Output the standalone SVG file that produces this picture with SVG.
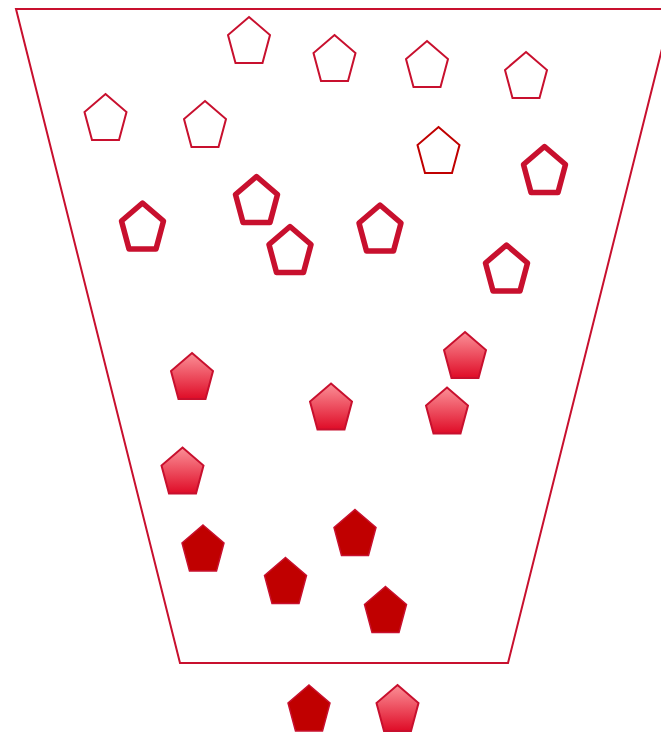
<svg xmlns="http://www.w3.org/2000/svg" xmlns:xlink="http://www.w3.org/1999/xlink" width="661" height="736" viewBox="0 0 661 736">
  <defs>
    <linearGradient id="g" x1="0" y1="0" x2="0" y2="1">
      <stop offset="0" stop-color="#fb9097"/>
      <stop offset="1" stop-color="#df0c27"/>
    </linearGradient>
    <path id="p" d="M0,0 L21,18 L13.5,46 L-13.5,46 L-21,18 Z"/>
  </defs>
  <style>
    .funnel { fill: none; stroke: #c8102e; stroke-width: 2; }
    .thin { fill: #ffffff; stroke: #c8102e; stroke-width: 2; }
    .thin2 { fill: #ffffff; stroke: #c00000; stroke-width: 2; }
    .thick { fill: #ffffff; stroke: #c8102e; stroke-width: 5.5; stroke-linejoin: round; }
    .grad { fill: url(#g); stroke: #c8102e; stroke-width: 2; }
    .dark { fill: #c00000; stroke: #c8102e; stroke-width: 1.5; }
  </style>
  <g id="funnel">
    <polygon class="funnel" points="16,9 672,9 508,663 180,663 16,9"/>
  </g>
  <g id="thin-pentagons">
    <use xlink:href="#p" class="thin" x="249" y="17"/>
    <use xlink:href="#p" class="thin" x="334.5" y="35"/>
    <use xlink:href="#p" class="thin" x="427" y="41"/>
    <use xlink:href="#p" class="thin" x="526" y="52"/>
    <use xlink:href="#p" class="thin" x="105.5" y="94"/>
    <use xlink:href="#p" class="thin" x="205" y="101"/>
    <use xlink:href="#p" class="thin2" x="438.5" y="127"/>
  </g>
  <g id="thick-pentagons">
    <use xlink:href="#p" class="thick" x="544.5" y="146.5"/>
    <use xlink:href="#p" class="thick" x="256.5" y="176.5"/>
    <use xlink:href="#p" class="thick" x="142.5" y="203"/>
    <use xlink:href="#p" class="thick" x="290" y="226.5"/>
    <use xlink:href="#p" class="thick" x="380" y="205"/>
    <use xlink:href="#p" class="thick" x="506.5" y="245"/>
  </g>
  <g id="gradient-pentagons">
    <use xlink:href="#p" class="grad" x="465" y="332"/>
    <use xlink:href="#p" class="grad" x="192" y="353"/>
    <use xlink:href="#p" class="grad" x="331" y="383.5"/>
    <use xlink:href="#p" class="grad" x="447" y="387.5"/>
    <use xlink:href="#p" class="grad" x="182.5" y="447.5"/>
    <use xlink:href="#p" class="grad" x="397.5" y="685"/>
  </g>
  <g id="dark-pentagons">
    <use xlink:href="#p" class="dark" x="203" y="525"/>
    <use xlink:href="#p" class="dark" x="355" y="509.5"/>
    <use xlink:href="#p" class="dark" x="285.5" y="557.5"/>
    <use xlink:href="#p" class="dark" x="385.5" y="586.5"/>
    <use xlink:href="#p" class="dark" x="309" y="685"/>
  </g>
</svg>
